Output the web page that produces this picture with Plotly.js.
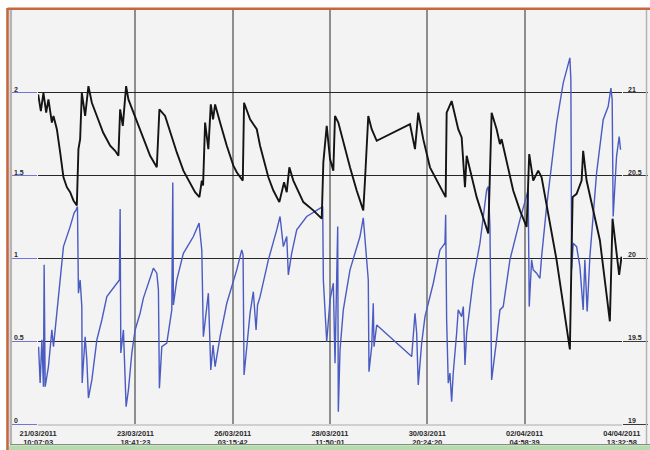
<!DOCTYPE html>
<html>
<head>
<meta charset="utf-8">
<script src="https://cdn.plot.ly/plotly-3.0.1.min.js"></script>
<style>html,body{margin:0;padding:0;background:#fff;}#chart{width:650px;height:450px;}</style>
</head>
<body>
<div id="chart"></div>
<script>
// Start of the record: 21/03/2011 10:07:03 ; times below are in days from that moment
var startMs = Date.UTC(2011, 2, 21, 10, 7, 3);

// Black series (right axis)
var blackT = [0,0.065,0.128,0.194,0.249,0.332,0.371,0.453,0.533,0.613,0.695,0.775,0.855,0.937,
0.976,1.017,1.058,1.138,1.218,1.301,1.422,1.574,1.744,1.865,1.945,1.986,
2.051,2.131,2.187,2.308,2.470,2.713,2.875,2.938,3.076,3.197,3.359,3.519,3.681,3.802,
3.907,3.965,3.996,4.045,4.124,4.183,4.238,4.287,4.408,4.570,4.730,4.812,
4.958,4.989,5.135,5.297,5.377,5.578,5.699,5.844,5.958,6.023,6.086,
6.183,6.425,6.667,6.871,6.910,6.992,7.072,7.152,7.193,7.273,7.394,
7.556,7.718,7.878,7.919,7.999,8.082,8.203,9.010,9.131,9.210,9.331,9.494,
9.736,9.874,9.898,10.019,10.179,10.262,10.342,10.383,10.625,10.785,10.906,
10.988,11.109,11.189,11.230,11.511,11.673,11.836,11.899,11.996,12.117,12.199,
12.562,12.884,12.926,12.950,13.047,13.127,13.168,13.206,13.289,13.611,
13.853,13.918,14.015,14.078,14.136];
var blackV = [20.99,20.89,21.00,20.88,20.96,20.82,20.86,20.78,20.64,20.49,20.43,20.40,20.35,20.32,
20.66,20.72,21.00,20.86,21.04,20.94,20.86,20.76,20.68,20.65,20.62,20.90,
20.80,21.04,20.96,20.88,20.78,20.62,20.55,20.90,20.86,20.76,20.64,20.53,20.46,20.40,
20.37,20.47,20.44,20.82,20.66,20.93,20.84,20.93,20.82,20.68,20.56,20.52,
20.47,20.94,20.84,20.78,20.68,20.49,20.41,20.34,20.46,20.40,20.55,
20.47,20.34,20.29,20.24,20.58,20.80,20.60,20.53,20.86,20.82,20.70,
20.55,20.41,20.29,20.47,20.86,20.78,20.71,20.81,20.66,20.88,20.72,20.55,
20.43,20.37,20.88,20.95,20.78,20.73,20.43,20.62,20.37,20.25,20.15,
20.88,20.78,20.69,20.72,20.41,20.29,20.19,20.63,20.47,20.53,20.49,
19.99,19.45,19.94,20.37,20.39,20.45,20.47,20.65,20.47,20.11,
19.62,20.24,20.01,19.90,20.01];

// Blue series (left axis)
var blueT = [0.010,0.048,0.090,0.128,0.145,0.170,0.249,0.332,0.371,0.613,
0.775,0.872,0.920,0.952,0.976,1.017,1.058,1.066,1.138,1.179,
1.218,1.301,1.422,1.543,1.664,1.906,1.969,1.986,2.003,2.066,2.131,2.187,2.269,2.349,2.470,
2.550,2.792,2.875,2.914,2.938,2.996,3.117,3.238,3.262,3.277,
3.359,3.519,3.761,3.899,3.965,4.003,4.124,4.183,4.238,4.287,4.408,
4.570,4.812,4.933,4.965,4.989,5.135,5.214,5.280,5.316,5.377,
5.578,5.781,5.861,5.941,6.023,6.062,6.143,6.265,6.508,6.895,6.910,
6.992,7.072,7.152,7.193,7.258,7.273,7.314,7.394,7.556,7.798,7.878,
7.960,7.999,8.016,8.082,8.120,8.138,8.203,9.051,9.131,9.172,
9.210,9.293,9.373,9.574,9.736,9.857,9.874,9.898,9.937,9.978,
10.019,10.058,10.140,10.179,10.262,10.302,10.342,10.383,10.542,10.705,
10.867,10.906,10.947,10.988,11.109,11.189,11.269,11.431,11.673,11.836,
11.874,11.899,11.957,11.996,12.078,12.158,12.199,12.320,12.562,12.722,
12.843,12.884,12.908,12.926,12.965,13.047,13.127,13.206,13.247,13.303,
13.369,13.531,13.691,13.812,13.878,13.909,13.933,14.015,14.078,14.112];
var blueV = [0.467,0.248,0.508,0.225,0.961,0.225,0.346,0.568,0.467,1.071,
1.192,1.275,1.293,1.313,0.790,0.870,0.709,0.248,0.527,0.387,
0.157,0.266,0.508,0.628,0.769,0.850,0.870,1.299,0.429,0.568,0.105,0.205,0.427,0.568,0.669,
0.760,0.941,0.911,0.810,0.216,0.467,0.488,0.689,1.458,0.719,
0.870,1.031,1.132,1.213,1.051,0.527,0.790,0.326,0.477,0.346,0.527,
0.729,0.931,1.051,1.021,0.296,0.669,0.799,0.568,0.719,0.769,
0.991,1.172,1.253,1.071,1.132,0.900,1.031,1.172,1.253,1.313,0.870,
0.497,0.749,0.850,0.367,1.192,0.074,0.447,0.689,0.931,1.132,1.245,
0.971,0.870,0.316,0.467,0.729,0.467,0.598,0.407,0.669,0.548,
0.236,0.488,0.648,0.850,1.051,1.092,1.263,0.628,0.246,0.308,
0.135,0.308,0.548,0.689,0.648,0.709,0.356,0.548,0.870,1.092,
1.414,1.434,1.192,0.266,0.508,0.689,0.709,0.991,1.233,1.384,
1.414,0.709,0.991,0.931,0.911,0.880,1.011,1.313,1.817,2.059,
2.179,2.211,2.079,0.931,1.092,1.071,0.950,0.689,0.991,0.679,
1.011,1.515,1.837,1.917,2.028,1.958,1.253,1.615,1.736,1.656];

// Axis ticks
var xTickDays = [0, 2.357, 4.714, 7.071, 9.428, 11.786, 14.143];
var xTickDate = ['21/03/2011','23/03/2011','26/03/2011','28/03/2011','30/03/2011','02/04/2011','04/04/2011'];
var xTickTime = ['10:07:03','18:41:23','03:15:42','11:50:01','20:24:20','04:58:39','13:32:58'];
var leftTicks = [0, 0.5, 1, 1.5, 2];
var leftLabels = ['0','0.5','1','1.5','2'];
var rightTicks = [19, 19.5, 20, 20.5, 21];
var rightLabels = ['19','19.5','20','20.5','21'];

function toDate(d) {
  return new Date(startMs + d * 86400000).toISOString().replace('T', ' ').slice(0, 23);
}

var traces = [
  {x: blackT.map(toDate), y: blackV, yaxis: 'y2', type: 'scatter', mode: 'lines',
   line: {color: '#141414', width: 1.9}, hoverinfo: 'skip'},
  {x: blueT.map(toDate), y: blueV, yaxis: 'y', type: 'scatter', mode: 'lines',
   line: {color: '#4a5bc2', width: 1.4}, hoverinfo: 'skip'}
];

// pixel -> paper helpers for decorative frame
var L = 38, R = 622, T = 10, B = 424;
function px(x) { return (x - L) / (R - L); }
function py(y) { return (B - y) / (B - T); }

var labelFont = {family: 'Liberation Sans, Arial, sans-serif', size: 7, color: '#2a2a2a', weight: 'bold'};
var annotations = [];
leftTicks.forEach(function (v, i) {
  annotations.push({xref: 'paper', yref: 'y', x: px(12.5), y: v, text: leftLabels[i],
    showarrow: false, xanchor: 'left', yanchor: 'bottom', yshift: -1, borderpad: 0, font: labelFont});
});
rightTicks.forEach(function (v, i) {
  annotations.push({xref: 'paper', yref: 'y2', x: px(626.5), y: v, text: rightLabels[i],
    showarrow: false, xanchor: 'left', yanchor: 'bottom', yshift: -1, borderpad: 0, font: labelFont});
});

var shapes = [
  {type: 'rect', xref: 'paper', yref: 'paper', x0: px(8), x1: px(650), y0: py(444), y1: py(9),
   fillcolor: '#f3f3f3', line: {width: 0}, layer: 'below'},
  {type: 'line', xref: 'paper', yref: 'paper', x0: px(10.8), x1: px(10.8), y0: py(444), y1: py(10),
   line: {color: '#b4b4b4', width: 2.5}},
  {type: 'line', xref: 'paper', yref: 'paper', x0: px(646.5), x1: px(646.5), y0: py(444), y1: py(10),
   line: {color: '#b4b4b4', width: 1.5}},
  {type: 'line', xref: 'paper', yref: 'paper', x0: px(7.5), x1: px(650), y0: py(8.7), y1: py(8.7),
   line: {color: '#c5673f', width: 2.6}},
  {type: 'line', xref: 'paper', yref: 'paper', x0: px(7.5), x1: px(7.5), y0: py(450), y1: py(8),
   line: {color: '#c5673f', width: 2.6}},
  {type: 'line', xref: 'paper', yref: 'paper', x0: px(10), x1: px(650), y0: py(444.5), y1: py(444.5),
   line: {color: '#8a8a8a', width: 1}},
  {type: 'rect', xref: 'paper', yref: 'paper', x0: px(9), x1: px(650), y0: py(450), y1: py(445.2),
   fillcolor: '#b6dcae', line: {width: 0}}
];

var layout = {
  width: 650, height: 450,
  margin: {l: L, r: 650 - R, t: T, b: 450 - B, pad: 0},
  paper_bgcolor: '#ffffff',
  plot_bgcolor: '#f3f3f3',
  showlegend: false,
  xaxis: {
    type: 'date',
    range: [toDate(-0.004), toDate(14.147)],
    tickmode: 'array',
    tickvals: xTickDays.map(toDate),
    ticktext: xTickDate.map(function (d, i) { return d + '<br>' + xTickTime[i]; }),
    ticks: '', showgrid: true, gridcolor: '#8e8e8e', gridwidth: 2,
    showline: true, linecolor: '#cfcfcf', linewidth: 1.5,
    zeroline: false,
    tickfont: {family: 'Liberation Sans, Arial, sans-serif', size: 7.5, color: '#2a2a2a', weight: 'bold'},
    ticklabelstandoff: 1
  },
  yaxis: {
    range: [0, 2.5], tickmode: 'array', tickvals: leftTicks, showticklabels: false,
    ticks: 'outside', ticklen: 25, tickcolor: '#7474d8', tickwidth: 1,
    showgrid: true, gridcolor: '#262626', gridwidth: 1, zeroline: false, showline: false
  },
  yaxis2: {
    range: [19, 21.5], overlaying: 'y', side: 'right', tickmode: 'array', tickvals: rightTicks,
    showticklabels: false, ticks: 'outside', ticklen: 25, tickcolor: '#3a3a3a', tickwidth: 1,
    showgrid: false, zeroline: false, showline: false
  },
  shapes: shapes,
  annotations: annotations
};

Plotly.newPlot('chart', traces, layout, {staticPlot: true, displayModeBar: false});
</script>
</body>
</html>
